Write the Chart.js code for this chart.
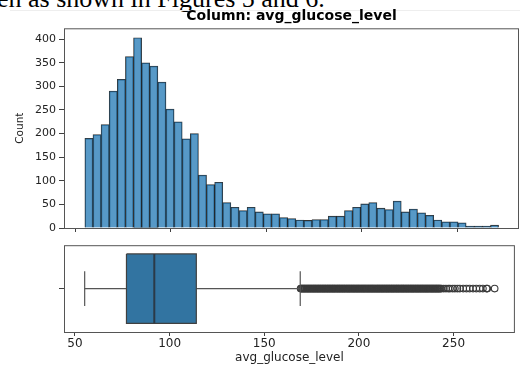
<!DOCTYPE html>
<html>
<head>
<meta charset="utf-8">
<script src="https://cdn.jsdelivr.net/npm/chart.js@4"></script>
<style>
  body { margin: 0; background: #fff; width: 520px; height: 365px; overflow: hidden; position: relative; }
  #caption { position: absolute; left: -3px; top: -14px; font-family: 'Liberation Serif', serif; font-size: 26px; line-height: 26px; white-space: nowrap; color: #000; }
  #rule { position: absolute; left: 10px; right: 0; top: 10px; border-top: 1px solid #eee; }
  #hist { position: absolute; left: 0; top: 0; }
  #box { position: absolute; left: 0; top: 235px; }
</style>
</head>
<body>
<div id="caption">en as shown in Figures 5 and 6.</div>
<div id="rule"></div>
<canvas id="hist" width="520" height="240"></canvas>
<canvas id="box" width="520" height="130"></canvas>
<script>
// histogram: 51 bins from the min value
const binStart = 55.12;
const binWidth = 4.247;
const counts = [190, 198, 219, 290, 315, 363, 403, 350, 343, 309, 252, 225, 189, 200, 112, 92, 97,
  54, 44, 37, 44, 34, 30, 30, 22, 20, 17, 16, 18, 18, 25, 25, 37, 44, 51, 54, 42, 39, 57, 34, 40,
  32, 27, 17, 13, 13, 11, 4, 4, 4, 6];

// box plot: whisker low, q1, median, q3, whisker high
const boxStats = [55.12, 77.2, 91.9, 114.1, 169.0];
const outliers = [169.2, 169.5, 169.9, 170.3, 170.6, 171.0, 171.4, 171.7, 172.1, 172.5, 172.9, 173.2,
  173.6, 174.0, 174.3, 174.7, 175.1, 175.5, 175.8, 176.2, 176.6, 176.9, 177.3, 177.7, 178.1, 178.4,
  178.8, 179.2, 179.5, 179.9, 180.3, 180.7, 181.0, 181.4, 181.8, 182.1, 182.5, 182.9, 183.3, 183.6,
  184.0, 184.4, 184.7, 185.1, 185.5, 185.9, 186.2, 186.6, 187.0, 187.3, 187.7, 188.1, 188.5, 188.8,
  189.2, 189.6, 189.9, 190.3, 190.7, 191.1, 191.4, 191.8, 192.2, 192.5, 192.9, 193.3, 193.7, 194.0,
  194.4, 194.8, 195.1, 195.5, 195.9, 196.3, 196.6, 197.0, 197.4, 197.7, 198.1, 198.5, 198.9, 199.2,
  199.6, 200.0, 200.3, 200.7, 201.1, 201.5, 201.8, 202.2, 202.6, 202.9, 203.3, 203.7, 204.1, 204.4,
  204.8, 205.2, 205.5, 205.9, 206.3, 206.7, 207.0, 207.4, 207.8, 208.1, 208.5, 208.9, 209.3, 209.6,
  210.0, 210.4, 210.7, 211.1, 211.5, 211.9, 212.2, 212.6, 213.0, 213.3, 213.7, 214.1, 214.5, 214.8,
  215.2, 215.6, 215.9, 216.3, 216.7, 217.1, 217.4, 217.8, 218.2, 218.5, 218.9, 219.3, 219.7, 220.0,
  220.4, 220.8, 221.1, 221.5, 221.9, 222.3, 222.6, 223.0, 223.4, 223.7, 224.1, 224.5, 224.9, 225.2,
  225.6, 226.0, 226.3, 226.7, 227.1, 227.5, 227.8, 228.2, 228.6, 228.9, 229.3, 229.7, 230.1, 230.4,
  230.8, 231.2, 231.5, 231.9, 232.3, 232.7, 233.0, 233.4, 233.8, 234.1, 234.5, 234.9, 235.3, 235.6,
  236.0, 236.4, 236.7, 237.1, 237.5, 237.9, 238.2, 238.6, 239.0, 239.3, 239.7, 240.1, 240.5, 240.8,
  241.2, 241.6, 241.9, 242.3, 242.7, 243.1, 243.6,
  244.8, 246.0, 247.2, 248.1, 249.5, 250.7, 252.0, 253.3, 255.1, 256.8, 258.5, 260.3, 262.0, 263.8,
  265.5, 267.4, 267.8, 271.7];

const xTicks = [50, 100, 150, 200, 250];
const yTicks = [0, 50, 100, 150, 200, 250, 300, 350, 400];
const xMin = 44.2, xMax = 282.4;

const lineCol = '#404040';
const tickCol = '#222';

const frame = {
  id: 'frame',
  afterDraw(chart) {
    const { ctx, chartArea: a } = chart;
    ctx.save();
    ctx.strokeStyle = '#555';
    ctx.lineWidth = 1;
    ctx.strokeRect(a.left + 0.5, a.top + 0.5, a.right - a.left - 1, a.bottom - a.top);
    ctx.restore();
  }
};

function xScale(showLabels) {
  return {
    type: 'linear', min: xMin, max: xMax, offset: false,
    afterBuildTicks: s => { s.ticks = xTicks.map(v => ({ value: v })); },
    ticks: { display: showLabels, color: tickCol, font: { family: 'DejaVu Sans', size: 12 }, padding: 1, maxRotation: 0 },
    grid: { drawOnChartArea: false, drawTicks: true, tickLength: 4, color: lineCol, offset: false },
    border: { display: false },
    title: { display: showLabels, text: 'avg_glucose_level', color: tickCol, font: { family: 'DejaVu Sans', size: 12 }, padding: { top: 0, bottom: 0 } },
    afterFit: s => { s.height = showLabels ? 33 : 12; }
  };
}

new Chart(document.getElementById('hist'), {
  type: 'bar',
  data: {
    datasets: [{
      data: counts.map((c, i) => ({ x: binStart + (i + 0.5) * binWidth, y: c })),
      backgroundColor: 'rgba(31,119,180,0.75)',
      borderColor: 'rgba(0,0,0,0.8)',
      borderWidth: 0.8,
      barPercentage: 1,
      categoryPercentage: 1
    }]
  },
  options: {
    responsive: false,
    animation: false,
    layout: { padding: { left: 0, right: 1, top: 0, bottom: 0 } },
    plugins: {
      legend: { display: false },
      tooltip: { enabled: false },
      title: {
        display: true, fullSize: false,
        text: 'Column: avg_glucose_level',
        color: '#000',
        font: { family: 'DejaVu Sans', size: 14, weight: 'bold' },
        padding: { top: 8, bottom: 3.5 }
      }
    },
    scales: {
      x: xScale(false),
      y: {
        min: 0, max: 423,
        afterBuildTicks: s => { s.ticks = yTicks.map(v => ({ value: v })); },
        ticks: { color: tickCol, font: { family: 'DejaVu Sans', size: 11 }, padding: 3 },
        grid: { drawOnChartArea: false, tickLength: 5, color: lineCol },
        border: { display: false },
        title: { display: true, text: 'Count', color: tickCol, font: { family: 'DejaVu Sans', size: 10.5 }, padding: { top: 14, bottom: 0 } },
        afterFit: s => { s.width = 64; }
      }
    }
  },
  plugins: [frame]
});

const [wLo, q1, med, q3, wHi] = boxStats;
const half = 0.4, cap = 0.2;
const seg = (pts, color, width) => ({
  data: pts.map(([x, y]) => ({ x, y })),
  showLine: true, borderColor: color, borderWidth: width, pointRadius: 0, fill: false
});

new Chart(document.getElementById('box'), {
  type: 'scatter',
  data: {
    datasets: [
      seg([[med, -half], [med, half]], '#2b3a48', 2),
      Object.assign(seg([[q1, -half], [q3, -half], [q3, half], [q1, half], [q1, -half]], lineCol, 1.2),
        { fill: 'shape', backgroundColor: '#3274a1' }),
      seg([[wLo, 0], [q1, 0]], '#555', 1.2),
      seg([[q3, 0], [wHi, 0]], '#555', 1.2),
      seg([[wLo, -cap], [wLo, cap]], '#555', 1.2),
      seg([[wHi, -cap], [wHi, cap]], '#555', 1.2),
      {
        data: outliers.map(v => ({ x: v, y: 0 })),
        pointRadius: 3.3, pointBackgroundColor: 'rgba(0,0,0,0)',
        pointBorderColor: '#3a3a3a', pointBorderWidth: 1.1
      }
    ]
  },
  options: {
    responsive: false,
    animation: false,
    layout: { padding: { left: 0, right: 1, top: 10, bottom: 0 } },
    plugins: { legend: { display: false }, tooltip: { enabled: false } },
    scales: {
      x: xScale(true),
      y: {
        min: -0.5, max: 0.5, reverse: true,
        afterBuildTicks: s => { s.ticks = [{ value: 0 }]; },
        ticks: { callback: () => '' },
        grid: { drawOnChartArea: false, tickLength: 5, color: lineCol },
        border: { display: false },
        afterFit: s => { s.width = 64; }
      }
    }
  },
  plugins: [frame]
});
</script>
</body>
</html>
